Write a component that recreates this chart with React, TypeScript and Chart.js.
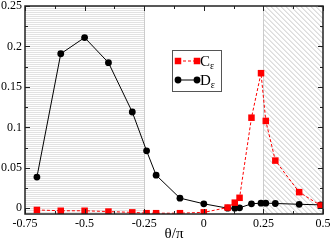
import { useEffect, useRef } from 'react';
import { Chart, registerables } from 'chart.js';

Chart.register(...registerables);

// ---- data ----
const theta = [-0.7, -0.6, -0.5, -0.4, -0.3, -0.24, -0.2, -0.1, 0, 0.1, 0.13, 0.15, 0.2, 0.24, 0.26, 0.3, 0.4, 0.49];
const cEps = [-0.002, -0.003, -0.003, -0.004, -0.005, -0.006, -0.006, -0.006, -0.005, 0.001, 0.007, 0.013, 0.112, 0.167, 0.108, 0.059, 0.02, 0.0035];
const dEps = [0.0386, 0.191, 0.211, 0.18, 0.119, 0.071, 0.041, 0.0126, 0.0056, 0.0002, 0.0002, 0.0006, 0.0056, 0.0064, 0.0064, 0.006, 0.005, 0.0043];
const xTicks = [-0.75, -0.5, -0.25, 0, 0.25, 0.5];
const yTicks = [0, 0.05, 0.1, 0.15, 0.2, 0.25];
const xMinor = [-0.75, -0.625, -0.5, -0.375, -0.25, -0.125, 0, 0.125, 0.25, 0.375, 0.5];
const yMinor = [0, 0.025, 0.05, 0.075, 0.1, 0.125, 0.15, 0.175, 0.2, 0.225, 0.25];
const stripedRange = [-0.75, -0.25];
const hatchedRange = [0.25, 0.5];
const seriesLabels = ['Cε', 'Dε'];
const axisTitle = 'θ/π';

const SERIF = "'Liberation Serif', 'DejaVu Serif', serif";

const decor = {
  id: 'decor',
  beforeDatasetsDraw(chart: any) {
    const { ctx, chartArea: a, scales } = chart;
    const x = scales.x;
    ctx.save();
    ctx.beginPath();
    ctx.rect(a.left, a.top, a.right - a.left, a.bottom - a.top);
    ctx.clip();
    // horizontal stripes
    const s0 = x.getPixelForValue(stripedRange[0]);
    const s1 = x.getPixelForValue(stripedRange[1]);
    ctx.fillStyle = '#e2e2e2';
    for (let py = Math.floor(a.top); py < a.bottom; py += 2) {
      ctx.fillRect(s0, py, s1 - s0, 1);
    }
    ctx.strokeStyle = '#cccccc';
    ctx.lineWidth = 1;
    ctx.beginPath();
    ctx.moveTo(Math.round(s1) + 0.5, a.top);
    ctx.lineTo(Math.round(s1) + 0.5, a.bottom);
    ctx.stroke();
    // diagonal hatch
    const h0 = x.getPixelForValue(hatchedRange[0]);
    const h1 = x.getPixelForValue(hatchedRange[1]);
    ctx.save();
    ctx.beginPath();
    ctx.rect(h0, a.top, h1 - h0, a.bottom - a.top);
    ctx.clip();
    ctx.strokeStyle = '#c6c6c6';
    ctx.lineWidth = 1;
    const H = a.bottom - a.top;
    ctx.beginPath();
    for (let k = h0 - H; k < h1 + 5; k += 5) {
      ctx.moveTo(k, a.top);
      ctx.lineTo(k + H, a.bottom);
    }
    ctx.stroke();
    ctx.restore();
    ctx.strokeStyle = '#cccccc';
    ctx.beginPath();
    ctx.moveTo(Math.round(h0) + 0.5, a.top);
    ctx.lineTo(Math.round(h0) + 0.5, a.bottom);
    ctx.stroke();
    ctx.restore();
  },
  afterDraw(chart: any) {
    const { ctx, chartArea: a, scales } = chart;
    const x = scales.x;
    const y = scales.y;
    ctx.save();
    // ticks
    ctx.strokeStyle = '#222';
    ctx.lineWidth = 1;
    ctx.beginPath();
    xMinor.forEach((v) => {
      const px = Math.round(x.getPixelForValue(v)) + 0.5;
      const len = xTicks.includes(v) ? 5 : 3;
      ctx.moveTo(px, a.bottom);
      ctx.lineTo(px, a.bottom - len);
      ctx.moveTo(px, a.top);
      ctx.lineTo(px, a.top + len);
    });
    yMinor.forEach((v) => {
      const py = Math.round(y.getPixelForValue(v)) + 0.5;
      const len = yTicks.includes(v) ? 5 : 3;
      ctx.moveTo(a.left, py);
      ctx.lineTo(a.left + len, py);
      ctx.moveTo(a.right, py);
      ctx.lineTo(a.right - len, py);
    });
    ctx.stroke();
    // frame
    ctx.lineWidth = 1.5;
    ctx.strokeStyle = '#222';
    ctx.strokeRect(a.left, a.top, a.right - a.left, a.bottom - a.top);

    // legend
    const lx = 172.5, ly = 50.5, lw = 49, lh = 41;
    ctx.fillStyle = '#fff';
    ctx.fillRect(lx, ly, lw, lh);
    ctx.lineWidth = 1;
    ctx.strokeStyle = '#555';
    ctx.strokeRect(lx, ly, lw, lh);
    const rows = [
      { y: 61, color: 'red', dash: [3, 2], shape: 'rect' },
      { y: 80, color: '#000', dash: [], shape: 'circle' },
    ];
    rows.forEach((r, i) => {
      const m0 = 178, m1 = 197;
      ctx.strokeStyle = r.color;
      ctx.setLineDash(r.dash);
      ctx.beginPath();
      ctx.moveTo(m0, r.y);
      ctx.lineTo(m1, r.y);
      ctx.stroke();
      ctx.setLineDash([]);
      ctx.fillStyle = r.color;
      [m0, m1].forEach((mx) => {
        if (r.shape === 'rect') {
          ctx.fillRect(mx - 3.25, r.y - 3.25, 6.5, 6.5);
        } else {
          ctx.beginPath();
          ctx.arc(mx, r.y, 3.4, 0, Math.PI * 2);
          ctx.fill();
        }
      });
      const label = seriesLabels[i];
      ctx.fillStyle = '#000';
      ctx.textBaseline = 'alphabetic';
      ctx.textAlign = 'left';
      ctx.font = `15px ${SERIF}`;
      ctx.fillText(label.charAt(0), 200, r.y + 5);
      const w = ctx.measureText(label.charAt(0)).width;
      ctx.font = `10px ${SERIF}`;
      ctx.fillText(label.slice(1), 200 + w, r.y + 8);
    });
    ctx.restore();
  },
};

export default function App() {
  const ref = useRef<HTMLCanvasElement | null>(null);
  useEffect(() => {
    document.body.style.margin = '0';
    const canvas = ref.current;
    if (!canvas) return;
    const chart = new Chart(canvas, {
      type: 'line',
      data: {
        datasets: [
          {
            label: seriesLabels[0],
            data: theta.map((t, i) => ({ x: t, y: cEps[i] })),
            borderColor: 'red',
            backgroundColor: 'red',
            borderWidth: 1,
            borderDash: [3, 2],
            pointStyle: 'rect',
            pointRadius: 4.6,
            pointBorderWidth: 0,
            pointBackgroundColor: 'red',
            tension: 0,
          },
          {
            label: seriesLabels[1],
            data: theta.map((t, i) => ({ x: t, y: dEps[i] })),
            borderColor: '#000',
            backgroundColor: '#000',
            borderWidth: 1,
            pointStyle: 'circle',
            pointRadius: 3.4,
            pointBorderWidth: 0,
            pointBackgroundColor: '#000',
            tension: 0,
          },
        ],
      },
      options: {
        animation: false,
        responsive: false,
        maintainAspectRatio: false,
        layout: { padding: { top: 6, right: 10, left: 0, bottom: 0 } },
        plugins: { legend: { display: false }, tooltip: { enabled: false } },
        scales: {
          x: {
            type: 'linear',
            min: -0.75,
            max: 0.5,
            afterBuildTicks: (s: any) => {
              s.ticks = xTicks.map((v) => ({ value: v }));
            },
            afterFit: (s: any) => {
              s.height = 27;
              s.paddingLeft = 0;
              s.paddingRight = 0;
            },
            grid: { display: false, drawTicks: false },
            border: { display: false },
            ticks: {
              callback: (v: any) => String(v),
              font: { family: SERIF, size: 12 },
              color: '#000',
              padding: 3,
              maxRotation: 0,
              autoSkip: false,
            },
            title: {
              display: true,
              text: axisTitle,
              font: { family: SERIF, size: 15 },
              color: '#000',
              padding: { top: 0, bottom: -2 },
            },
          },
          y: {
            type: 'linear',
            min: -0.007,
            max: 0.25,
            afterBuildTicks: (s: any) => {
              s.ticks = yTicks.map((v) => ({ value: v }));
            },
            afterFit: (s: any) => {
              s.width = 25;
              s.paddingTop = 0;
              s.paddingBottom = 0;
            },
            grid: { display: false, drawTicks: false },
            border: { display: false },
            ticks: {
              callback: (v: any) => String(v),
              font: { family: SERIF, size: 12 },
              color: '#000',
              padding: 3,
              autoSkip: false,
            },
          },
        },
      },
      plugins: [decor],
    });
    return () => chart.destroy();
  }, []);
  return <canvas ref={ref} width={333} height={241} style={{ display: 'block' }} />;
}
